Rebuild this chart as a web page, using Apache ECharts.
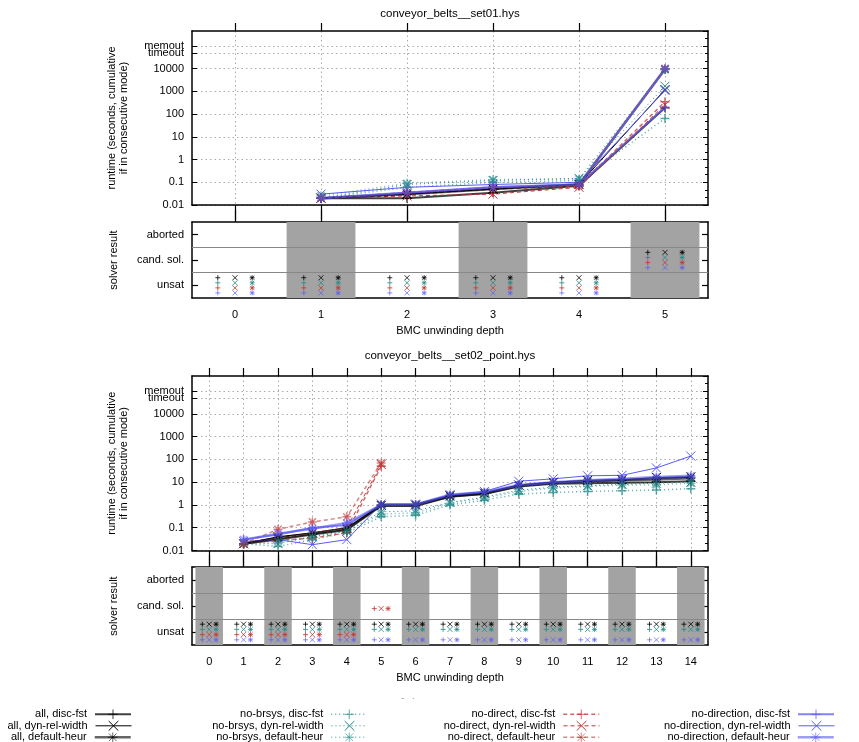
<!DOCTYPE html>
<html>
<head>
<meta charset="utf-8">
<script src="https://cdn.jsdelivr.net/npm/echarts@6/dist/echarts.min.js"></script>
<style>
  html, body { margin: 0; padding: 0; background: #fff; }
  #chart { width: 859px; height: 742px; }
</style>
</head>
<body>
<div id="chart"></div>
<script>
// ---- data -------------------------------------------------------------
const depths1 = [0, 1, 2, 3, 4, 5];
const depths2 = [0, 1, 2, 3, 4, 5, 6, 7, 8, 9, 10, 11, 12, 13, 14];

const runtimeTickValues = [0.01, 0.1, 1, 10, 100, 1000, 10000, 100000];
const runtimeTickLabels = ['0.01', '0.1', '1', '10', '100', '1000', '10000', 'memout'];
const timeoutTickValue = 50000;
const timeoutTickLabel = 'timeout';
const resultTickValues = [0, 1, 2];
const resultTickLabels = ['unsat', 'cand. sol.', 'aborted'];

// runtimes in seconds (cumulative), indexed by unwinding depth; null = not measured
const set01_all_discFst       = [null, 0.02, 0.02, 0.035, 0.07, 190];
const set01_all_dynRelWidth   = [null, 0.02, 0.03, 0.05, 0.08, 1200];
const set01_all_defaultHeur   = [null, 0.02, 0.03, 0.05, 0.08, 9500];
const set01_brsys_discFst     = [null, 0.02, 0.06, 0.10, 0.12, 65];
const set01_brsys_dynRelWidth = [null, 0.02, 0.08, 0.12, 0.15, 1700];
const set01_brsys_defaultHeur = [null, 0.025, 0.09, 0.13, 0.14, 9000];
const set01_direct_discFst    = [null, 0.02, 0.03, 0.05, 0.07, 350];
const set01_direct_dynRelWidth= [null, 0.02, 0.025, 0.03, 0.06, 260];
const set01_direct_defaultHeur= [null, 0.02, 0.035, 0.06, 0.07, 10000];
const set01_dir_discFst       = [null, 0.02, 0.035, 0.06, 0.08, 200];
const set01_dir_dynRelWidth   = [null, 0.03, 0.06, 0.08, 0.10, 1100];
const set01_dir_defaultHeur   = [null, 0.02, 0.035, 0.06, 0.08, 10000];

const set02_all_discFst       = [null, 0.02, 0.03, 0.05, 0.08, 0.9, 0.9, 2.3, 3.0, 6.5, 8.5, 9, 9.5, 10, 11];
const set02_all_dynRelWidth   = [null, 0.02, 0.04, 0.06, 0.10, 0.95, 1.0, 2.5, 3.3, 7.5, 10, 12, 13, 16, 17];
const set02_all_defaultHeur   = [null, 0.02, 0.035, 0.055, 0.09, 1.0, 1.0, 2.4, 3.2, 7, 9.5, 11, 12, 13, 15];
const set02_brsys_discFst     = [null, 0.02, 0.015, 0.03, 0.06, 0.3, 0.35, 1.0, 1.6, 3.0, 3.5, 3.9, 4.2, 4.5, 5.2];
const set02_brsys_dynRelWidth = [null, 0.02, 0.02, 0.04, 0.07, 0.5, 0.55, 1.3, 2.2, 4.5, 6, 7, 8, 9, 10];
const set02_brsys_defaultHeur = [null, 0.02, 0.025, 0.04, 0.07, 0.4, 0.45, 1.2, 2.0, 3.9, 5.5, 6.5, 7.5, 7.6, 9];
const set02_direct_discFst    = [null, 0.02, 0.028, 0.035, 0.06, 50];
const set02_direct_dynRelWidth= [null, 0.02, 0.035, 0.06, 0.10, 60];
const set02_direct_defaultHeur= [null, 0.02, 0.085, 0.18, 0.30, 70];
const set02_dir_discFst       = [null, 0.03, 0.05, 0.10, 0.13, 1.0, 1.0, 2.6, 3.5, 7, 9.5, 11, 12, 15, 17];
const set02_dir_dynRelWidth   = [null, 0.025, 0.03, 0.018, 0.03, 1.1, 1.1, 2.8, 3.9, 11, 14, 19, 20, 42, 140];
const set02_dir_defaultHeur   = [null, 0.03, 0.055, 0.09, 0.16, 1.0, 1.05, 2.8, 3.7, 7.5, 10, 12, 14, 17, 19];

// solver result per depth: 0 = unsat, 1 = cand. sol., 2 = aborted; null = no run
const set01_result_all       = [0, 0, 0, 0, 0, 1];
const set01_result_brsys     = [0, 0, 0, 0, 0, 1];
const set01_result_direct    = [0, 0, 0, 0, 0, 1];
const set01_result_direction = [0, 0, 0, 0, 0, 1];
const set02_result_all       = [0, 0, 0, 0, 0, 0, 0, 0, 0, 0, 0, 0, 0, 0, 0];
const set02_result_brsys     = [0, 0, 0, 0, 0, 0, 0, 0, 0, 0, 0, 0, 0, 0, 0];
const set02_result_direct    = [0, 0, 0, 0, 0, 1];
const set02_result_direction = [0, 0, 0, 0, 0, 0, 0, 0, 0, 0, 0, 0, 0, 0, 0];

// ---- styles -----------------------------------------------------------
const FONT = '"Liberation Sans", Arial, sans-serif';
const FS = 11;
const YMAX = 5.66;            // log10 of the top of the runtime range

const PLUS  = 'path://M5 0L5 10M0 5L10 5';
const CROSS = 'path://M0 0L10 10M10 0L0 10';
const STAR  = 'path://M5 0L5 10M0 5L10 5M1 1L9 9M9 1L1 9';

const groups = [
  { label: 'all',          rgb: [0, 0, 0],       type: 'solid',  maxW: 3,   dy: 0.3 },
  { label: 'no-brsys',     rgb: [34, 138, 138],  type: [1, 3],   maxW: 1.5, dy: 0.1 },
  { label: 'no-direct',    rgb: [192, 52, 52],   type: [4, 3],   maxW: 1.5, dy: -0.1 },
  { label: 'no-direction', rgb: [90, 90, 250],   type: 'solid',  maxW: 3,   dy: -0.3 }
];
const heuristics = [
  { label: 'disc-fst',      symbol: PLUS,  width: 2,   alpha: 0.75, dx: -0.2 },
  { label: 'dyn-rel-width', symbol: CROSS, width: 1,   alpha: 1.0,  dx: 0 },
  { label: 'default-heur',  symbol: STAR,  width: 2.5, alpha: 0.6,  dx: 0.2 }
];
const set01Runtimes = [
  [set01_all_discFst, set01_all_dynRelWidth, set01_all_defaultHeur],
  [set01_brsys_discFst, set01_brsys_dynRelWidth, set01_brsys_defaultHeur],
  [set01_direct_discFst, set01_direct_dynRelWidth, set01_direct_defaultHeur],
  [set01_dir_discFst, set01_dir_dynRelWidth, set01_dir_defaultHeur]
];
const set02Runtimes = [
  [set02_all_discFst, set02_all_dynRelWidth, set02_all_defaultHeur],
  [set02_brsys_discFst, set02_brsys_dynRelWidth, set02_brsys_defaultHeur],
  [set02_direct_discFst, set02_direct_dynRelWidth, set02_direct_defaultHeur],
  [set02_dir_discFst, set02_dir_dynRelWidth, set02_dir_defaultHeur]
];
const set01Results = [set01_result_all, set01_result_brsys, set01_result_direct, set01_result_direction];
const set02Results = [set02_result_all, set02_result_brsys, set02_result_direct, set02_result_direction];

const rgba = (c, a) => `rgba(${c[0]},${c[1]},${c[2]},${a})`;
const runtimeTickLogs = runtimeTickValues.map(v => Math.log10(v));
const timeoutLog = Math.log10(timeoutTickValue);

// ---- panel layout -----------------------------------------------------
const L = 192, W = 516;
const panels = [
  { depths: depths1, runtimes: set01Runtimes, results: set01Results, title: 'conveyor_belts__set01.hys',
    rtTop: 31, rtH: 174, resTop: 222, resH: 76, titleY: 14, bandParity: 1 },
  { depths: depths2, runtimes: set02Runtimes, results: set02Results, title: 'conveyor_belts__set02_point.hys',
    rtTop: 376, rtH: 174.5, resTop: 567, resH: 78, titleY: 356, bandParity: 0 }
];

const grid = [], xAxis = [], yAxis = [], series = [], graphic = [];
const txt = { color: '#000', fontFamily: FONT, fontSize: FS };
const boxLine = { show: true, onZero: false, lineStyle: { color: '#000', width: 1.5 } };
const gridDots = { show: true, lineStyle: { color: '#aaa', width: 1, type: [1.5, 3] } };

panels.forEach((p, pi) => {
  const xmin = -0.5, xmax = p.depths[p.depths.length - 1] + 0.5;
  const gRt = grid.length, gRes = gRt + 1;
  grid.push({ left: L, top: p.rtTop, width: W, height: p.rtH, containLabel: false, outerBoundsMode: 'none' });
  grid.push({ left: L, top: p.resTop, width: W, height: p.resH, containLabel: false, outerBoundsMode: 'none' });

  const xBase = { type: 'value', min: xmin, max: xmax, axisLine: boxLine, splitLine: { show: false } };
  // runtime: bottom (grid lines) and top
  const xRtBottom = xAxis.length;
  xAxis.push(Object.assign({}, xBase, { gridIndex: gRt, position: 'bottom',
    axisTick: { show: true, inside: false, length: 15, customValues: p.depths, lineStyle: { color: '#000', width: 1.2 } },
    axisLabel: { show: false, customValues: p.depths },
    splitLine: gridDots }));
  xAxis.push(Object.assign({}, xBase, { gridIndex: gRt, position: 'top',
    axisTick: { show: true, inside: false, length: 8, customValues: p.depths, lineStyle: { color: '#000', width: 1.2 } },
    axisLabel: { show: false, customValues: p.depths } }));
  // result: bottom (labels) and top
  const xResBottom = xAxis.length;
  xAxis.push(Object.assign({}, xBase, { gridIndex: gRes, position: 'bottom',
    axisTick: { show: false, customValues: p.depths },
    axisLabel: Object.assign({ show: true, margin: 11, customValues: p.depths }, txt),
    name: 'BMC unwinding depth', nameLocation: 'middle', nameGap: 27, nameTextStyle: txt, nameMoveOverlap: false }));
  xAxis.push(Object.assign({}, xBase, { gridIndex: gRes, position: 'top',
    axisTick: { show: true, inside: false, length: 12, customValues: p.depths, lineStyle: { color: '#000', width: 1.2 } },
    axisLabel: { show: false, customValues: p.depths } }));

  // runtime y axes (log10 of seconds)
  const yRtLeft = yAxis.length;
  yAxis.push({ type: 'value', gridIndex: gRt, position: 'left', min: -2, max: YMAX, axisLine: boxLine,
    axisTick: { show: true, inside: true, length: 5, customValues: runtimeTickLogs, lineStyle: { color: '#000' } },
    axisLabel: Object.assign({ show: true, margin: 8, customValues: runtimeTickLogs, hideOverlap: false,
      showMinLabel: true, showMaxLabel: true,
      formatter: v => { const i = runtimeTickLogs.findIndex(t => Math.abs(t - v) < 1e-6); return i < 0 ? '' : runtimeTickLabels[i]; } }, txt),
    splitLine: gridDots,
    name: 'runtime (seconds, cumulative\nif in consecutive mode)', nameLocation: 'middle', nameRotate: 90, nameGap: 62,
    nameTextStyle: Object.assign({ lineHeight: 12 }, txt), nameMoveOverlap: false });
  // timeout level: its own label, tick and grid line on the left side
  yAxis.push({ type: 'value', gridIndex: gRt, position: 'left', offset: 0, min: -2, max: YMAX,
    axisLine: { show: false, onZero: false },
    axisTick: { show: true, inside: true, length: 5, customValues: [timeoutLog], lineStyle: { color: '#000' } },
    axisLabel: Object.assign({ show: true, margin: 8, customValues: [timeoutLog], showMinLabel: true, showMaxLabel: true,
      formatter: () => timeoutTickLabel }, txt),
    splitLine: gridDots });
  yAxis.push({ type: 'value', gridIndex: gRt, position: 'right', min: -2, max: YMAX, interval: 1, axisLine: boxLine,
    axisTick: { show: true, inside: true, length: 5, lineStyle: { color: '#000' } },
    minorTick: { show: true, splitNumber: 3, length: 3, lineStyle: { color: '#000' } },
    axisLabel: { show: false }, splitLine: { show: false } });
  // result y axes
  const yResLeft = yAxis.length;
  yAxis.push({ type: 'value', gridIndex: gRes, position: 'left', min: -0.5, max: 2.5, axisLine: boxLine,
    axisTick: { show: true, inside: true, length: 6, customValues: resultTickValues, lineStyle: { color: '#000', width: 1.2 } },
    axisLabel: Object.assign({ show: true, margin: 8, customValues: resultTickValues, showMinLabel: true, showMaxLabel: true,
      formatter: v => resultTickLabels[resultTickValues.indexOf(Math.round(v))] }, txt),
    splitLine: { show: false },
    name: 'solver result', nameLocation: 'middle', nameRotate: 90, nameGap: 73, nameTextStyle: txt, nameMoveOverlap: false });
  yAxis.push({ type: 'value', gridIndex: gRes, position: 'right', min: -0.5, max: 2.5, axisLine: boxLine,
    axisTick: { show: true, inside: true, length: 6, customValues: resultTickValues, lineStyle: { color: '#000', width: 1.2 } },
    axisLabel: { show: false, customValues: resultTickValues }, splitLine: { show: false } });

  // alternating depth shading and row separators in the result panel
  const bands = p.depths.filter(d => d % 2 === p.bandParity);
  series.push({ type: 'scatter', name: 'bands' + pi, xAxisIndex: xResBottom, yAxisIndex: yResLeft, data: [], z: 1, silent: true,
    markArea: { silent: true, itemStyle: { color: '#a3a3a3', opacity: 1 }, label: { show: false },
      data: bands.map(d => [{ coord: [d - 0.4, -0.5] }, { coord: [d + 0.4, 2.5] }]) } });
  series.push({ type: 'scatter', name: 'rows' + pi, xAxisIndex: xResBottom, yAxisIndex: yResLeft, data: [], z: 2, silent: true,
    markLine: { silent: true, symbol: 'none', label: { show: false }, animation: false,
      lineStyle: { color: '#888', width: 1.2, type: 'solid' },
      data: [{ yAxis: 0.5 }, { yAxis: 1.5 }] } });

  groups.forEach((g, gi) => {
    heuristics.forEach((h, hi) => {
      const name = g.label + ', ' + h.label;
      const lw = Math.min(h.width, g.maxW);
      const values = p.runtimes[gi][hi];
      const pts = [];
      values.forEach((v, i) => { if (v != null) pts.push([p.depths[i], Math.log10(v)]); });
      series.push({
        type: 'line', name: name, xAxisIndex: xRtBottom, yAxisIndex: yRtLeft, data: pts, z: 3 + hi,
        symbol: h.symbol, symbolSize: 9, showSymbol: true, clip: true,
        lineStyle: { color: rgba(g.rgb, h.alpha), width: lw, type: g.type },
        itemStyle: { color: 'none', borderColor: rgba(g.rgb, h.alpha), borderWidth: Math.min(lw, 1.5) },
        emphasis: { disabled: true }
      });
      const res = p.results[gi];
      const rpts = [];
      res.forEach((r, i) => { if (r != null) rpts.push([p.depths[i] + h.dx, r + g.dy]); });
      series.push({
        type: 'scatter', name: name + ' (result)', xAxisIndex: xResBottom, yAxisIndex: yResLeft, data: rpts, z: 5,
        symbol: h.symbol, symbolSize: 5,
        itemStyle: { color: 'none', borderColor: rgba(g.rgb, gi === 3 ? 0.85 : 1), borderWidth: 1 },
        emphasis: { disabled: true }
      });
    });
  });

  graphic.push({ type: 'text', x: L + W / 2, y: p.titleY, silent: true,
    style: { text: p.title, fill: '#000', font: `11.5px ${FONT}`, textAlign: 'center', textVerticalAlign: 'middle' } });
});

// faint leftover mark under the lower axis title
graphic.push({ type: 'text', x: 408, y: 699, silent: true,
  style: { text: '-   \u00b7', fill: '#888', font: `9px ${FONT}`, textAlign: 'center', textVerticalAlign: 'middle' } });

// legend: four columns, three rows, text to the left of the sample
const legendRight = [132, 368, 600, 835];
const legendRows = [713, 724.5, 736];
const legend = [];
groups.forEach((g, gi) => {
  heuristics.forEach((h, hi) => {
    legend.push({
      data: [g.label + ', ' + h.label], orient: 'horizontal', align: 'right', selectedMode: false,
      right: 859 - legendRight[gi], top: legendRows[hi] - 6, padding: 0, itemGap: 0,
      itemWidth: 36, itemHeight: 12,
      lineStyle: { color: rgba(g.rgb, h.alpha), width: Math.min(h.width, g.maxW), type: g.type },
      itemStyle: { color: 'none', borderColor: rgba(g.rgb, h.alpha), borderWidth: 1 },
      textStyle: Object.assign({ padding: [0, 3, 0, 0] }, txt)
    });
  });
});

const chart = echarts.init(document.getElementById('chart'), null, { renderer: 'canvas' });
chart.setOption({
  animation: false,
  backgroundColor: '#fff',
  textStyle: { fontFamily: FONT },
  grid, xAxis, yAxis, series, legend, graphic,
  tooltip: { show: false }
});
</script>
</body>
</html>
